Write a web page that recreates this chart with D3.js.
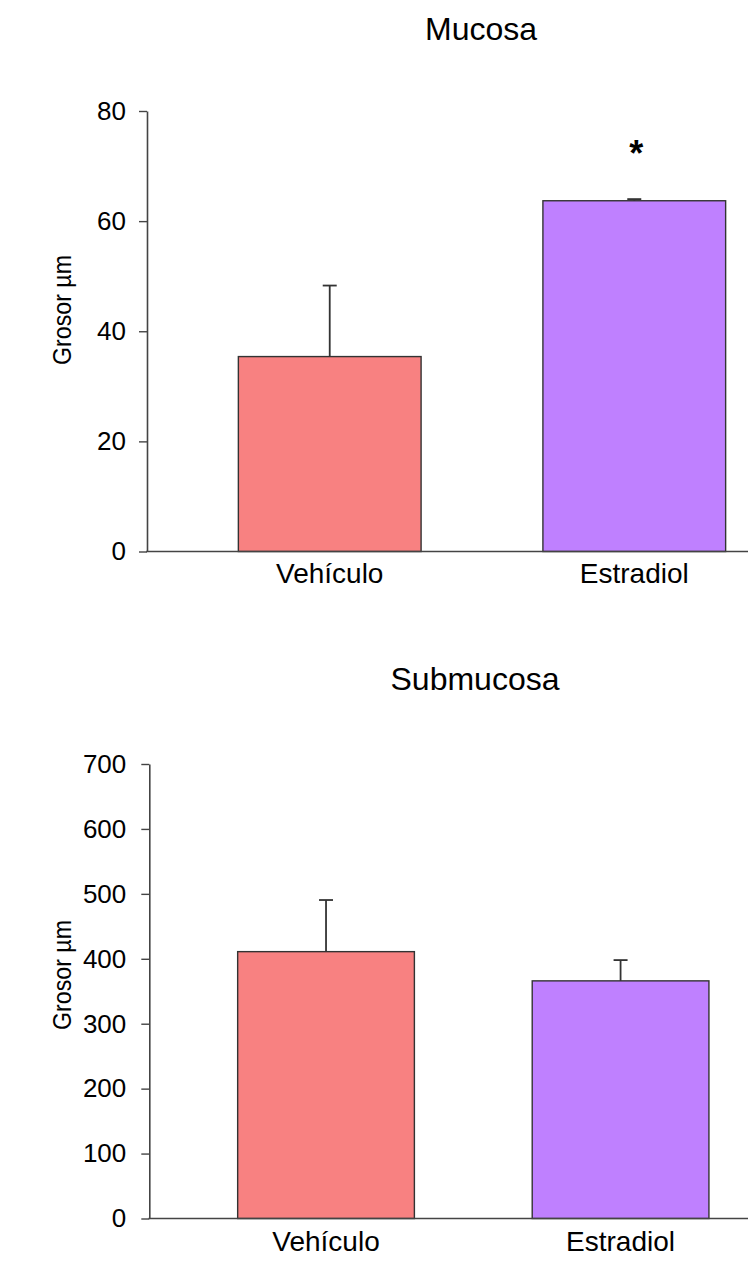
<!DOCTYPE html>
<html>
<head>
<meta charset="utf-8">
<script src="https://cdn.jsdelivr.net/npm/d3@7"></script>
<style>
  html, body { margin: 0; padding: 0; background: #fff; }
  svg { display: block; font-family: "Liberation Sans", Arial, sans-serif; }
</style>
</head>
<body>
<svg id="chart" width="748" height="1263"></svg>
<script>
const categories = ["Vehículo", "Estradiol"];
const barColors = ["#F88181", "#BF80FF"];

const mucosaTitle = "Mucosa";
const mucosaValues = [35.4, 63.7];
const mucosaErrors = [12.9, 0.3];
const mucosaTicks = [0, 20, 40, 60, 80];
const mucosaSignificance = ["", "*"];

const submucosaTitle = "Submucosa";
const submucosaValues = [411, 366];
const submucosaErrors = [79.5, 32];
const submucosaTicks = [0, 100, 200, 300, 400, 500, 600, 700];
const submucosaSignificance = ["", ""];

const yLabel = "Grosor µm";

const svg = d3.select("#chart");

function drawPanel(cfg) {
  const g = svg.append("g");
  const x = d3.scaleBand()
    .domain(categories)
    .range([cfg.axisX, cfg.axisX + cfg.bandSpan])
    .paddingInner(0.4)
    .paddingOuter(0.3);
  const y = d3.scaleLinear()
    .domain([0, d3.max(cfg.ticks)])
    .range([cfg.baseY, cfg.topY]);

  g.append("text")
    .attr("x", cfg.titleX).attr("y", cfg.titleY)
    .attr("text-anchor", "middle")
    .attr("font-size", 32)
    .attr("fill", "#000")
    .text(cfg.title);

  g.append("text")
    .attr("transform", `translate(${cfg.labelX},${cfg.labelY}) rotate(-90)`)
    .attr("text-anchor", "middle")
    .attr("font-size", 26)
    .attr("textLength", 110)
    .attr("lengthAdjust", "spacingAndGlyphs")
    .attr("fill", "#000")
    .text(yLabel);

  g.selectAll("rect.bar").data(cfg.values).join("rect")
    .attr("class", "bar")
    .attr("x", (d, i) => x(categories[i]))
    .attr("width", x.bandwidth())
    .attr("y", d => y(d))
    .attr("height", d => y(0) - y(d))
    .attr("fill", (d, i) => barColors[i])
    .attr("stroke", "#333")
    .attr("stroke-width", 1.4);

  const capW = 14;
  cfg.values.forEach((v, i) => {
    const cx = x(categories[i]) + x.bandwidth() / 2;
    const e = cfg.errors[i];
    g.append("line")
      .attr("x1", cx).attr("x2", cx)
      .attr("y1", y(v)).attr("y2", y(v + e))
      .attr("stroke", "#333").attr("stroke-width", 1.8);
    g.append("line")
      .attr("x1", cx - capW / 2).attr("x2", cx + capW / 2)
      .attr("y1", y(v + e)).attr("y2", y(v + e))
      .attr("stroke", "#333").attr("stroke-width", 1.8);
    if (cfg.sig[i]) {
      g.append("text")
        .attr("x", cx + 2).attr("y", cfg.sigY)
        .attr("text-anchor", "middle")
        .attr("font-size", 36)
        .attr("font-weight", "bold")
        .attr("fill", "#000")
        .text(cfg.sig[i]);
    }
  });

  const yAxis = d3.axisLeft(y)
    .tickValues(cfg.ticks)
    .tickFormat(d3.format("d"))
    .tickSizeInner(8)
    .tickSizeOuter(0)
    .tickPadding(cfg.tickPad);
  const ya = g.append("g")
    .attr("transform", `translate(${cfg.axisX},0)`)
    .call(yAxis);
  ya.select(".domain").attr("stroke", "#444").attr("stroke-width", 1.6);
  ya.selectAll(".tick line").attr("stroke", "#444").attr("stroke-width", 1.4);
  ya.selectAll(".tick text")
    .attr("font-size", 26)
    .attr("font-family", "\"Liberation Sans\", Arial, sans-serif")
    .attr("fill", "#000");

  g.append("line")
    .attr("x1", cfg.axisX - 0.8).attr("x2", 748)
    .attr("y1", y(0)).attr("y2", y(0))
    .attr("stroke", "#444").attr("stroke-width", 1.6);

  g.selectAll("text.cat").data(categories).join("text")
    .attr("class", "cat")
    .attr("x", d => x(d) + x.bandwidth() / 2)
    .attr("y", y(0) + cfg.catOffset)
    .attr("text-anchor", "middle")
    .attr("font-size", 28)
    .attr("fill", "#000")
    .text(d => d);
}

drawPanel({
  title: mucosaTitle, values: mucosaValues, errors: mucosaErrors,
  ticks: mucosaTicks, sig: mucosaSignificance,
  axisX: 147, bandSpan: 670, baseY: 551.5, topY: 111,
  titleX: 481, titleY: 40, labelX: 71, labelY: 310,
  tickPad: 13, catOffset: 31, sigY: 166
});

drawPanel({
  title: submucosaTitle, values: submucosaValues, errors: submucosaErrors,
  ticks: submucosaTicks, sig: submucosaSignificance,
  axisX: 149.3, bandSpan: 648, baseY: 1218.5, topY: 764,
  titleX: 475, titleY: 690, labelX: 71, labelY: 975,
  tickPad: 15, catOffset: 32, sigY: 0
});
</script>
</body>
</html>
